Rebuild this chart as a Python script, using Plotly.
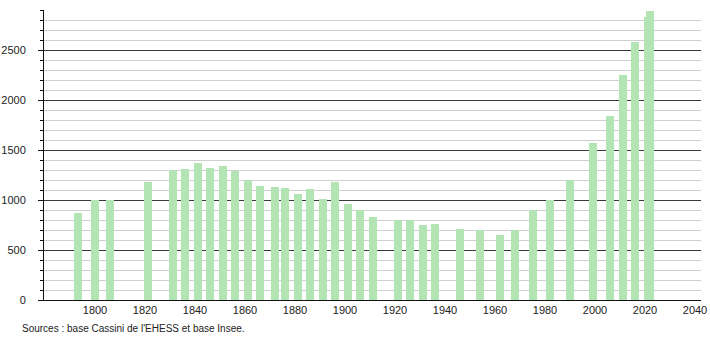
import plotly.graph_objects as go

years = [1793, 1800, 1806, 1821, 1831, 1836, 1841, 1846, 1851, 1856, 1861, 1866,
         1872, 1876, 1881, 1886, 1891, 1896, 1901, 1906, 1911, 1921, 1926, 1931,
         1936, 1946, 1954, 1962, 1968, 1975, 1982, 1990, 1999, 2006, 2011, 2016,
         2021, 2022]
population = [867, 1000, 1002, 1180, 1300, 1310, 1370, 1320, 1340, 1295, 1200, 1140,
              1130, 1120, 1060, 1110, 1010, 1180, 960, 900, 830, 800, 800, 750,
              760, 710, 700, 650, 700, 900, 1000, 1200, 1570, 1840, 2250, 2580,
              2830, 2890]
x_ticks = [1800, 1820, 1840, 1860, 1880, 1900, 1920, 1940, 1960, 1980, 2000, 2020, 2040]
source_text = "Sources : base Cassini de l'EHESS et base Insee."

fig = go.Figure()
fig.add_trace(go.Bar(
    x=years, y=population, width=3.2,
    marker=dict(color="#b3e4b3", line=dict(width=0)),
    hoverinfo="x+y",
))

fig.update_layout(
    width=710, height=340,
    margin=dict(l=44, r=9, t=10, b=40, autoexpand=False),
    plot_bgcolor="white", paper_bgcolor="white",
    showlegend=False,
    font=dict(family="Liberation Sans, Arial, sans-serif", size=11, color="#222"),
    bargap=0,
)
fig.update_xaxes(
    range=[1779.6, 2042.4], automargin=False,
    tickvals=x_ticks, ticktext=[str(t) for t in x_ticks],
    showgrid=False, zeroline=False,
    showline=True, linecolor="#111", linewidth=1,
    ticks="", ticklabelstandoff=0,
)
fig.update_yaxes(
    range=[0, 2900], automargin=False,
    tickvals=[0, 500, 1000, 1500, 2000, 2500],
    showgrid=True, gridcolor="#3a3a3a", gridwidth=1,
    zeroline=False,
    showline=True, linecolor="#111", linewidth=1,
    ticks="outside", ticklen=5, tickcolor="#111",
    minor=dict(dtick=100, showgrid=True, gridcolor="#cfcfcf", gridwidth=1,
               ticks="outside", ticklen=3, tickcolor="#111"),
    ticklabelstandoff=10,
)
fig.add_annotation(
    text=source_text, xref="paper", yref="paper",
    x=-44/657, y=-28/290, xanchor="left", yanchor="middle",
    showarrow=False, font=dict(size=10, color="#222"),
    xshift=20,
)

fig.write_html("out.html")
